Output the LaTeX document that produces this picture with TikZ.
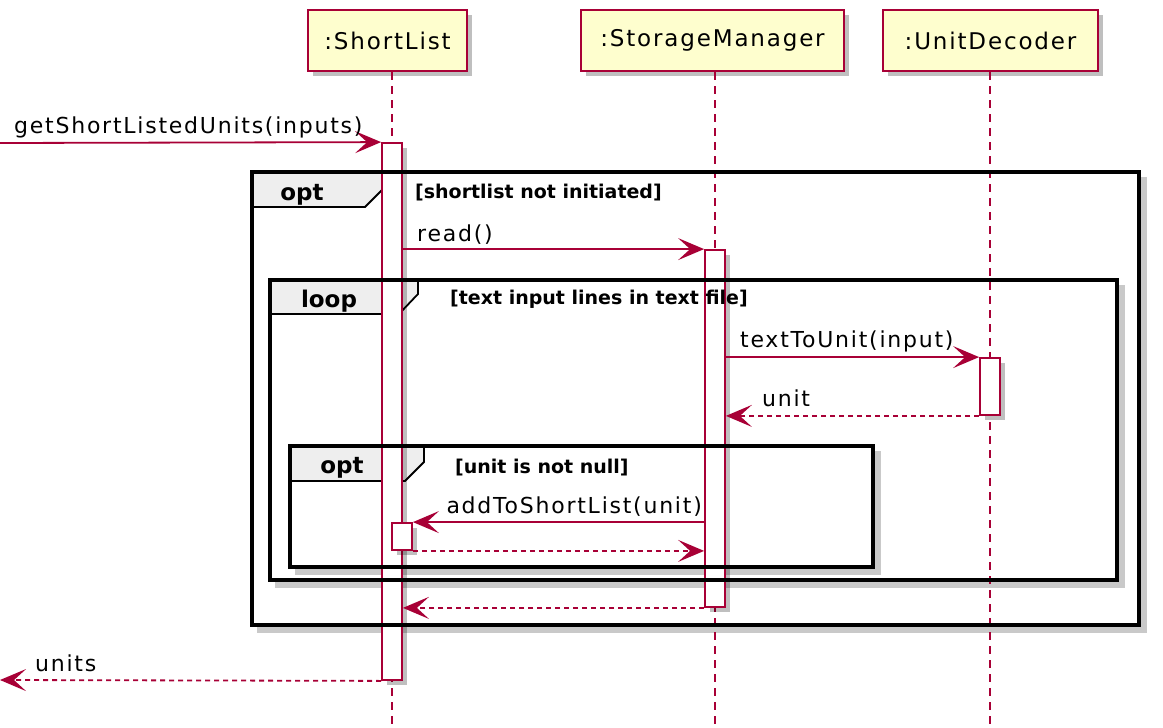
\documentclass[tikz,border=0pt]{standalone}
\usepackage{fontspec}
\setmainfont{DejaVu Sans}[LetterSpace=8]
\newfontfamily\guardfont{DejaVu Sans}[LetterSpace=0]
\usetikzlibrary{arrows.meta}
\definecolor{pu}{HTML}{A80036}
\definecolor{pubg}{HTML}{FEFECE}
\definecolor{tabg}{HTML}{EEEEEE}
\tikzset{
  shadowfill/.style={preaction={fill=black, opacity=.25, transform canvas={shift={(5pt,-5pt)}}}},
  shadowline/.style={draw=black!30, line width=6pt, opacity=.7},
  part/.style={draw=pu, fill=pubg, line width=2.4pt, minimum height=61pt, inner sep=0, shadowfill,
    font=\fontsize{23}{27}\selectfont},
  lifeline/.style={draw=pu, line width=1.8pt, dash pattern=on 8pt off 6pt},
  actbar/.style={draw=pu, fill=white, line width=1.8pt, minimum width=20pt, inner sep=0, shadowfill},
  msg/.style={draw=pu, line width=1.8pt, -{Stealth[length=26pt,width=22pt,inset=12pt]}},
  ret/.style={msg, dash pattern=on 5pt off 4pt},
  frame/.style={draw=black, line width=4pt},
  tab/.style={draw=black, fill=tabg, line width=1.8pt},
  lbl/.style={font=\fontsize{22}{26}\selectfont, inner sep=0, text=black},
  grd/.style={font=\guardfont\bfseries\fontsize{19}{22}\selectfont, inner sep=0, text=black},
  tabtxt/.style={font=\guardfont\bfseries\fontsize{23}{26}\selectfont, inner sep=0, text=black},
}
\begin{document}
\begin{tikzpicture}[x=1pt,y=-1pt]
\useasboundingbox (0,0) rectangle (1163,728);

% fragment shadows
\draw[shadowline] (1144,177) -- (1144,630) -- (257,630);
\draw[shadowline] (1122,285) -- (1122,585) -- (275,585);
\draw[shadowline] (878,451) -- (878,572) -- (295,572);

% fragment tabs
\draw[tab] (252,172) -- (384,172) -- (384,188) -- (365,207) -- (252,207) -- cycle;
\draw[tab] (270,280) -- (418,280) -- (418,294) -- (399,314) -- (270,314) -- cycle;
\draw[tab] (290,446) -- (424,446) -- (424,462) -- (405,481) -- (290,481) -- cycle;

% participants
\node[part, minimum width=159pt] (sl) at (387.5,40.5) {:ShortList};
\node[part, minimum width=263pt] (sm) at (712.5,40.5) {:StorageManager};
\node[part, minimum width=215pt] (ud) at (990.5,40.5) {:UnitDecoder};

\coordinate (slend) at (392,728);
\coordinate (smend) at (715,728);
\coordinate (udend) at (990,728);
\draw[lifeline] (sl.south -| slend) -- (slend);
\draw[lifeline] (sm.south -| smend) -- (smend);
\draw[lifeline] (ud.south -| udend) -- (udend);

% activations
\node[actbar, minimum height=537pt] (a1) at (392,411.5) {};
\node[actbar, minimum height=357pt] (a2) at (715,428.5) {};
\node[actbar, minimum height=57pt] (a3) at (990,386.5) {};
\node[actbar, minimum height=27pt] (a4) at (402,536.5) {};

% fragment borders
\draw[frame] (252,172) rectangle (1139,625);
\draw[frame] (270,280) rectangle (1117,580);
\draw[frame] (290,446) rectangle (873,567);

% fragment labels
\node[tabtxt, anchor=base] (t1) at (302,200) {opt};
\node[grd, anchor=base west] (g1) at (415,198) {[shortlist not initiated]};
\node[tabtxt, anchor=base] (t2) at (329,307) {loop};
\node[grd, anchor=base west] (g2) at (450,304) {[text input lines in text file]};
\node[tabtxt, anchor=base] (t3) at (342,473) {opt};
\node[grd, anchor=base west] (g3) at (455,473) {[unit is not null]};

% messages
\coordinate (inL) at (0,143);
\coordinate (outL) at (0,680);
\draw[msg] (inL) -- (a1.north west);
\node[lbl, anchor=base west] (m1) at (14,133) {getShortListedUnits(inputs)};

\draw[msg] (a1.east |- a2.north) -- (a2.north west);
\node[lbl, anchor=base west] (m2) at (417,241) {read()};

\draw[msg] (a2.east |- a3.north) -- (a3.north west);
\node[lbl, anchor=base west] (m3) at (740,347) {textToUnit(input)};

\draw[ret] (a3.south west) -- (a2.east |- a3.south);
\node[lbl, anchor=base west] (m4) at (762,406) {unit};

\draw[msg] (a2.west |- a4.north) -- (a4.north east);
\node[lbl, anchor=base east] (m5) at (702,513) {addToShortList(unit)};

\draw[ret] (a4.south east) -- (a2.west |- a4.south);

\draw[ret] (a2.south west) -- (a1.east |- a2.south);

\draw[ret] (a1.south west) -- (outL);
\node[lbl, anchor=base west] (m6) at (35,671) {units};
\end{tikzpicture}
\end{document}
